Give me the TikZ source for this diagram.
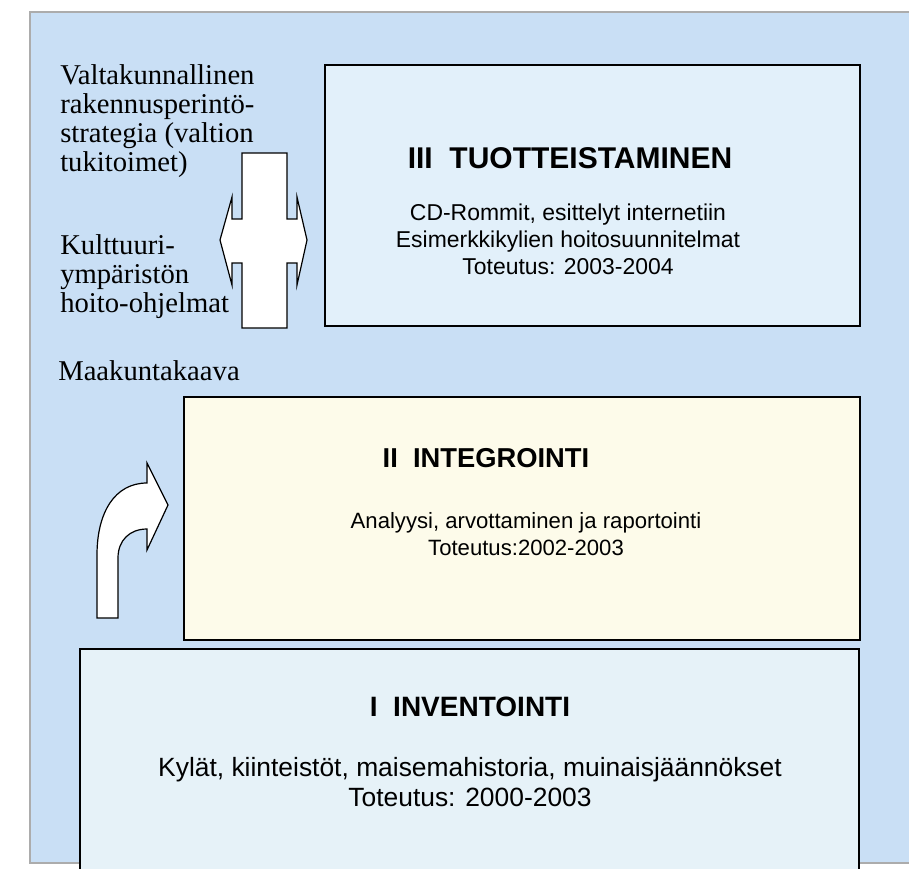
\documentclass[tikz,border=0pt]{standalone}
\usepackage{fontspec}
\setmainfont{Liberation Serif}
\newfontfamily\arialf{Liberation Sans}
\definecolor{panelblue}{RGB}{201,223,245}
\definecolor{boxblue}{RGB}{226,240,250}
\definecolor{boxyellow}{RGB}{253,251,234}
\definecolor{boxlight}{RGB}{230,242,248}
\begin{document}
\begin{tikzpicture}[x=0.75pt,y=-0.75pt,
  phase/.style={draw=black,line width=1.5pt},
  titletext/.style={font=\arialf\bfseries\fontsize{21}{25}\selectfont,inner sep=0pt},
  bodytext/.style={font=\arialf\fontsize{17.2}{20.25}\selectfont,align=center,inner sep=0pt},
  sidetext/.style={font=\fontsize{21.5}{21.75}\selectfont,anchor=base west,inner sep=0pt},
  arrowshape/.style={draw=black,line width=0.9pt,fill=white,line join=miter}]
\useasboundingbox (0,0) rectangle (909,868);
\fill[white] (0,0) rectangle (909,868);
\draw[gray!65,line width=1.2pt,fill=panelblue] (930,12) -- (30,12) -- (30,863) -- (930,863);
% phase boxes
\draw[phase,fill=boxblue] (325,65) rectangle (860,326);
\draw[phase,fill=boxyellow] (184,397) rectangle (860,640);
\draw[phase,fill=boxlight] (80,649) rectangle (859,890);
% texts in boxes
\node[titletext,font=\arialf\bfseries\fontsize{22.5}{26}\selectfont] (t3) at (570,158) {III\ \ TUOTTEISTAMINEN};
\node[bodytext] (b3) at (568,239) {CD-Rommit, esittelyt internetiin\\Esimerkkikylien hoitosuunnitelmat\\Toteutus: 2003-2004};
\node[titletext,font=\arialf\bfseries\fontsize{20.5}{24}\selectfont] (t2) at (486,458) {II\ \ INTEGROINTI};
\node[bodytext,font=\arialf\fontsize{16.6}{20.25}\selectfont] (b2) at (526,534) {Analyysi, arvottaminen ja raportointi\\Toteutus:2002-2003};
\node[titletext] (t1) at (470,707) {I\ \ INVENTOINTI};
\node[bodytext,font=\arialf\fontsize{19.8}{22.5}\selectfont] (b1) at (470,782) {Kylät, kiinteistöt, maisemahistoria, muinaisjäännökset\\Toteutus: 2000-2003};
% side texts
\node[sidetext] (s1) at (60,84) {Valtakunnallinen};
\node[sidetext] (s2) at (60,113) {rakennusperintö-};
\node[sidetext] (s3) at (60,142) {strategia (valtion};
\node[sidetext] (s4) at (60,171) {tukitoimet)};
\node[sidetext] (s5) at (60,254) {Kulttuuri-};
\node[sidetext] (s6) at (60,283) {ympäristön};
\node[sidetext] (s7) at (60,312) {hoito-ohjelmat};
\node[sidetext] (s8) at (58,380) {Maakuntakaava};
% double-headed cross arrow
\draw[arrowshape] (242,153) -- (287,153) -- (287,219) -- (297,219) -- (297,197) -- (307,240)
  -- (297,285) -- (297,263) -- (287,263) -- (287,328) -- (242,328) -- (242,263) -- (232,263)
  -- (232,285) -- (220,240) -- (232,197) -- (232,219) -- (242,219) -- cycle;
% curved arrow
\draw[arrowshape] (97,618) -- (97,555) .. controls (97,512) and (115,483) .. (147,483)
  -- (147,463) -- (168,505) -- (147,550) -- (147,529)
  .. controls (130,529) and (118,540) .. (118,558) -- (118,618) -- cycle;
\end{tikzpicture}
\end{document}
